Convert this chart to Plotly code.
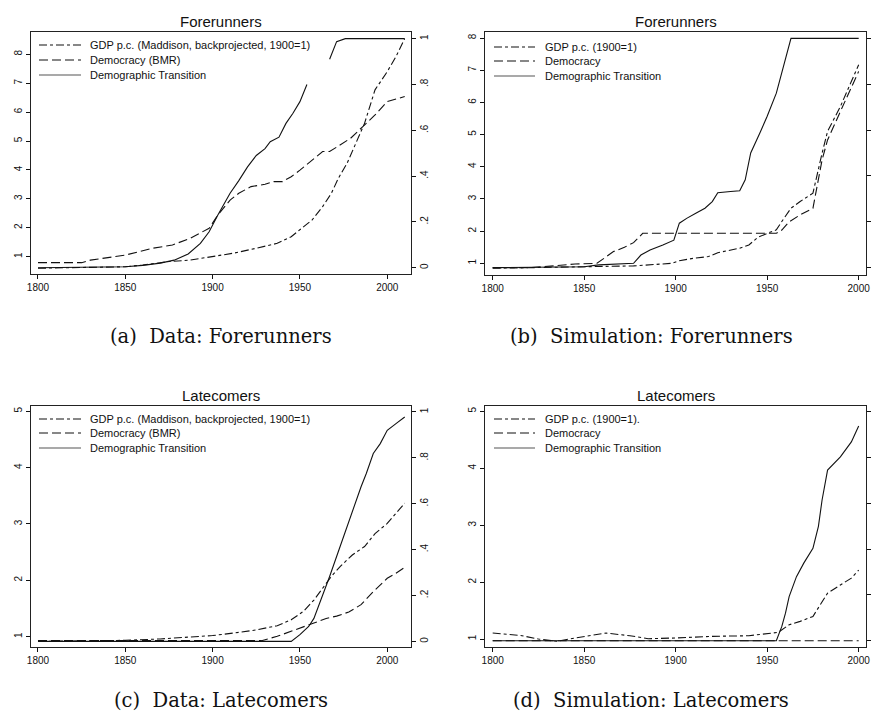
import plotly.graph_objects as go

# Figure fills the whole 873x717 window; the page's default body margin is removed after plotting.
OFF = 0
W, H = 873, 717

# ---------------- DATA ----------------
# (a) Data: Forerunners
a_gdp_years = [1800, 1850, 1860, 1875, 1887, 1900, 1912, 1925, 1937, 1945, 1950, 1957, 1963, 1968,
               1972, 1977, 1982, 1987, 1993, 2000, 2005, 2010]
a_gdp = [0.60, 0.65, 0.71, 0.83, 0.88, 1.00, 1.12, 1.29, 1.46, 1.69, 1.92, 2.27, 2.73, 3.19,
         3.71, 4.23, 4.92, 5.61, 6.77, 7.40, 7.92, 8.54]
a_dem_years = [1800, 1825, 1830, 1850, 1865, 1877, 1887, 1898, 1903, 1910, 1915, 1922, 1930, 1935,
               1940, 1945, 1950, 1957, 1963, 1967, 1973, 1979, 1986, 1993, 2000, 2010]
a_dem = [0.022, 0.022, 0.033, 0.055, 0.084, 0.099, 0.128, 0.172, 0.23, 0.295, 0.325, 0.354, 0.364,
         0.376, 0.376, 0.397, 0.426, 0.47, 0.507, 0.507, 0.536, 0.565, 0.616, 0.667, 0.725, 0.747]
a_dt_years = [1800, 1850, 1860, 1870, 1878, 1886, 1893, 1898, 1903, 1910, 1915, 1920, 1925, 1930,
              1933, 1938, 1942, 1946, 1950, 1954, 1960, 1967, 1971, 1976, 2010]
a_dt = [0.0, 0.004, 0.01, 0.02, 0.033, 0.06, 0.106, 0.157, 0.23, 0.325, 0.38, 0.44, 0.49, 0.52,
        0.55, 0.57, 0.63, 0.674, 0.725, 0.80, None, 0.91, 0.987, 1.0, 1.0]

# (b) Simulation: Forerunners
b_gdp_years = [1800, 1850, 1877, 1898, 1902, 1910, 1918, 1923, 1935, 1940, 1945, 1950, 1955, 1958,
               1963, 1968, 1975, 1980, 1983, 1990, 2000]
b_gdp = [0.845, 0.90, 0.92, 1.00, 1.08, 1.16, 1.21, 1.33, 1.47, 1.57, 1.81, 1.93, 2.04, 2.30,
         2.71, 2.92, 3.18, 4.42, 5.10, 5.87, 7.17]
b_dem_years = [1800, 1820, 1835, 1845, 1857, 1862, 1866, 1872, 1877, 1882, 1955, 1958, 1962, 1968,
               1975, 1980, 1983, 1990, 2000]
b_dem = [0.0, 0.0, 0.009, 0.016, 0.019, 0.048, 0.07, 0.089, 0.109, 0.15, 0.15, 0.164, 0.20, 0.23,
         0.259, 0.47, 0.557, 0.681, 0.856]
b_dt_years = [1800, 1850, 1858, 1877, 1881, 1886, 1893, 1899, 1902, 1906, 1911, 1916, 1920, 1923,
              1930, 1935, 1938, 1941, 1946, 1950, 1955, 1959, 1963, 2000]
b_dt = [0.0, 0.004, 0.012, 0.019, 0.055, 0.077, 0.099, 0.12, 0.194, 0.215, 0.237, 0.259, 0.288,
        0.327, 0.332, 0.335, 0.383, 0.50, 0.587, 0.66, 0.761, 0.878, 1.0, 1.0]

# (c) Data: Latecomers
c_gdp_years = [1800, 1850, 1870, 1887, 1900, 1912, 1925, 1937, 1945, 1952, 1958, 1963, 1968, 1973,
               1980, 1987, 1993, 2000, 2005, 2010]
c_gdp = [0.917, 0.935, 0.96, 0.99, 1.02, 1.065, 1.12, 1.195, 1.30, 1.45, 1.65, 1.86, 2.07, 2.245,
         2.45, 2.60, 2.83, 3.01, 3.19, 3.37]
c_dem_years = [1800, 1928, 1937, 1945, 1950, 1958, 1965, 1971, 1978, 1985, 1992, 2000, 2005, 2010]
c_dem = [0.003, 0.003, 0.022, 0.043, 0.058, 0.08, 0.10, 0.11, 0.128, 0.16, 0.217, 0.275, 0.297, 0.323]
c_dt_years = [1800, 1945, 1950, 1955, 1958, 1962, 1967, 1971, 1975, 1980, 1985, 1988, 1992, 1996,
              2000, 2005, 2010]
c_dt = [0.0, 0.0, 0.029, 0.065, 0.10, 0.18, 0.283, 0.37, 0.457, 0.572, 0.674, 0.732, 0.819, 0.862,
        0.92, 0.949, 0.978]

# (d) Simulation: Latecomers
d_gdp_years = [1800, 1815, 1825, 1835, 1845, 1862, 1875, 1885, 1900, 1920, 1940, 1950, 1956, 1962,
               1968, 1975, 1983, 1990, 1996, 2000]
d_gdp = [1.105, 1.064, 1.0, 0.96, 1.018, 1.105, 1.058, 1.006, 1.018, 1.047, 1.058, 1.093, 1.117,
         1.25, 1.31, 1.397, 1.806, 1.95, 2.07, 2.21]
d_dem_years = [1800, 1850, 1900, 1950, 2000]
d_dem = [0.0, 0.0, 0.0, 0.0, 0.0]
d_dt_years = [1800, 1955, 1958, 1960, 1962, 1966, 1970, 1975, 1978, 1980, 1983, 1990, 1996, 2000]
d_dt = [0.0, 0.0, 0.0625, 0.12, 0.193, 0.28, 0.339, 0.404, 0.50, 0.615, 0.746, 0.804, 0.869, 0.939]

# tick labels
x_ticks = [1800, 1850, 1900, 1950, 2000]
left_ticks_fore = [1, 2, 3, 4, 5, 6, 7, 8]
left_ticks_late = [1, 2, 3, 4, 5]
right_ticks = [0, 0.2, 0.4, 0.6, 0.8, 1]
right_ticklabels = ["0", ".2", ".4", ".6", ".8", "1"]

titles = ["Forerunners", "Forerunners", "Latecomers", "Latecomers"]
captions = ["(a)  Data: Forerunners", "(b)  Simulation: Forerunners",
            "(c)  Data: Latecomers", "(d)  Simulation: Latecomers"]
legend_a = ["GDP p.c. (Maddison, backprojected, 1900=1)", "Democracy (BMR)", "Demographic Transition"]
legend_b = ["GDP p.c. (1900=1)", "Democracy", "Demographic Transition"]
legend_c = ["GDP p.c. (Maddison, backprojected, 1900=1)", "Democracy (BMR)", "Demographic Transition"]
legend_d = ["GDP p.c. (1900=1).", "Democracy", "Demographic Transition"]

# ---------------- LAYOUT ----------------
SANS = "Liberation Sans, Arial, sans-serif"
SERIF = "DejaVu Serif, serif"
INK = "#111111"
DASHDOT = "8px,3px,3px,3px"
LONGDASH = "9px,4px"

# pixel boxes are in window coordinates
panels = [
    dict(x0=31, x1=411, y0=32, y1=274, xr=[1796, 2013.6], yl=[0.40, 8.77], yr=[-0.0275, 1.029],
         lt=left_ticks_fore, rlab=True, leg=(39, 81, 88, [45, 60, 75]), cap=(221, 336),
         gdp=(a_gdp_years, a_gdp), dem=(a_dem_years, a_dem), dt=(a_dt_years, a_dt), names=legend_a),
    dict(x0=485, x1=866, y0=32, y1=275, xr=[1795.8, 2004], yl=[0.637, 8.187], yr=[-0.032, 1.0277],
         lt=left_ticks_fore, rlab=False, leg=(494, 535, 543, [47, 61, 76]), cap=(651, 336),
         gdp=(b_gdp_years, b_gdp), dem=(b_dem_years, b_dem), dt=(b_dt_years, b_dt), names=legend_b),
    dict(x0=31, x1=411, y0=406, y1=647, xr=[1796, 2013.6], yl=[0.817, 5.094], yr=[-0.0246, 1.026],
         lt=left_ticks_late, rlab=True, leg=(39, 81, 88, [419, 433, 448]), cap=(221, 700),
         gdp=(c_gdp_years, c_gdp), dem=(c_dem_years, c_dem), dt=(c_dt_years, c_dt), names=legend_c),
    dict(x0=485, x1=866, y0=406, y1=647, xr=[1795.8, 2004], yl=[0.86, 5.093], yr=[-0.0276, 1.026],
         lt=left_ticks_late, rlab=False, leg=(494, 535, 543, [419, 433, 448]), cap=(651, 700),
         gdp=(d_gdp_years, d_gdp), dem=(d_dem_years, d_dem), dt=(d_dt_years, d_dt), names=legend_d),
]


def px(x):
    return (x - OFF) / W


def py(y):
    return 1 - (y - OFF) / H


fig = go.Figure()
layout = dict(
    width=W, height=H, margin=dict(l=0, r=0, t=0, b=0),
    paper_bgcolor="white", plot_bgcolor="white", showlegend=False,
    font=dict(family=SANS, color=INK, size=10),
)
shapes = []
annotations = []

for i, p in enumerate(panels):
    xi = i + 1
    yl_i = 2 * i + 1
    yr_i = 2 * i + 2
    xname = "x" if xi == 1 else f"x{xi}"
    ylname = "y" if yl_i == 1 else f"y{yl_i}"
    yrname = f"y{yr_i}"
    xkey = "xaxis" if xi == 1 else f"xaxis{xi}"
    ylkey = "yaxis" if yl_i == 1 else f"yaxis{yl_i}"
    yrkey = f"yaxis{yr_i}"

    layout[xkey] = dict(
        domain=[px(p["x0"]), px(p["x1"])], anchor=ylname, range=p["xr"],
        tickvals=x_ticks, ticks="outside", ticklen=4, tickwidth=1, tickcolor=INK,
        showline=True, linecolor="#222", linewidth=1, mirror=True,
        showgrid=False, zeroline=False, tickfont=dict(size=10, family=SANS, color=INK),
        automargin=False, fixedrange=True,
    )
    layout[ylkey] = dict(
        domain=[py(p["y1"]), py(p["y0"])], anchor=xname, range=p["yl"],
        tickvals=p["lt"], ticks="outside", ticklen=4, tickwidth=1, tickcolor=INK,
        tickangle=-90, showline=True, linecolor="#222", linewidth=1, mirror=True,
        showgrid=False, zeroline=False, tickfont=dict(size=10, family=SANS, color=INK),
        automargin=False, fixedrange=True,
    )
    layout[yrkey] = dict(
        overlaying=ylname, anchor=xname, side="right", range=p["yr"],
        tickvals=right_ticks, ticktext=right_ticklabels, showticklabels=p["rlab"],
        ticks="outside", ticklen=4, tickwidth=1, tickcolor=INK, tickangle=-90,
        showline=True, linecolor="#222", linewidth=1,
        showgrid=False, zeroline=False, tickfont=dict(size=10, family=SANS, color=INK),
        automargin=False, fixedrange=True,
    )

    gx, gy = p["gdp"]
    dx, dy = p["dem"]
    tx, ty = p["dt"]
    names = p["names"]
    fig.add_trace(go.Scatter(x=gx, y=gy, mode="lines", name=names[0], xaxis=xname, yaxis=ylname,
                             line=dict(color=INK, width=1.1, dash=DASHDOT)))
    fig.add_trace(go.Scatter(x=dx, y=dy, mode="lines", name=names[1], xaxis=xname, yaxis=yrname,
                             line=dict(color=INK, width=1.1, dash=LONGDASH)))
    fig.add_trace(go.Scatter(x=tx, y=ty, mode="lines", name=names[2], xaxis=xname, yaxis=yrname,
                             connectgaps=False, line=dict(color=INK, width=1.1)))

    # panel title
    annotations.append(dict(text=titles[i], x=px((p["x0"] + p["x1"]) / 2), y=py(p["y0"] - 11),
                            xref="paper", yref="paper", showarrow=False, xanchor="center",
                            yanchor="middle", font=dict(size=15, family=SANS, color=INK)))
    # caption
    cx, cy = p["cap"]
    annotations.append(dict(text=captions[i], x=px(cx), y=py(cy), xref="paper", yref="paper",
                            showarrow=False, xanchor="center", yanchor="middle",
                            font=dict(size=19.5, family=SERIF, color=INK)))
    # manual legend
    lx0, lx1, tx0, rows = p["leg"]
    dashes = [DASHDOT, LONGDASH, "solid"]
    for k in range(3):
        shapes.append(dict(type="line", xref="paper", yref="paper",
                           x0=px(lx0), x1=px(lx1), y0=py(rows[k]), y1=py(rows[k]),
                           line=dict(color=INK if k < 2 else "#555", width=1.1, dash=dashes[k])))
        annotations.append(dict(text=names[k], x=px(tx0), y=py(rows[k]), xref="paper", yref="paper",
                                showarrow=False, xanchor="left", yanchor="middle",
                                font=dict(size=11, family=SANS, color=INK)))

layout["shapes"] = shapes
layout["annotations"] = annotations
fig.update_layout(**layout)

PAGE_FIX = ("document.documentElement.style.margin='0';"
            "document.documentElement.style.overflow='hidden';"
            "document.body.style.margin='0';document.body.style.padding='0';"
            "document.body.style.overflow='hidden';")
fig.write_html("out.html", post_script=PAGE_FIX,
               config={"displayModeBar": False, "staticPlot": True})
